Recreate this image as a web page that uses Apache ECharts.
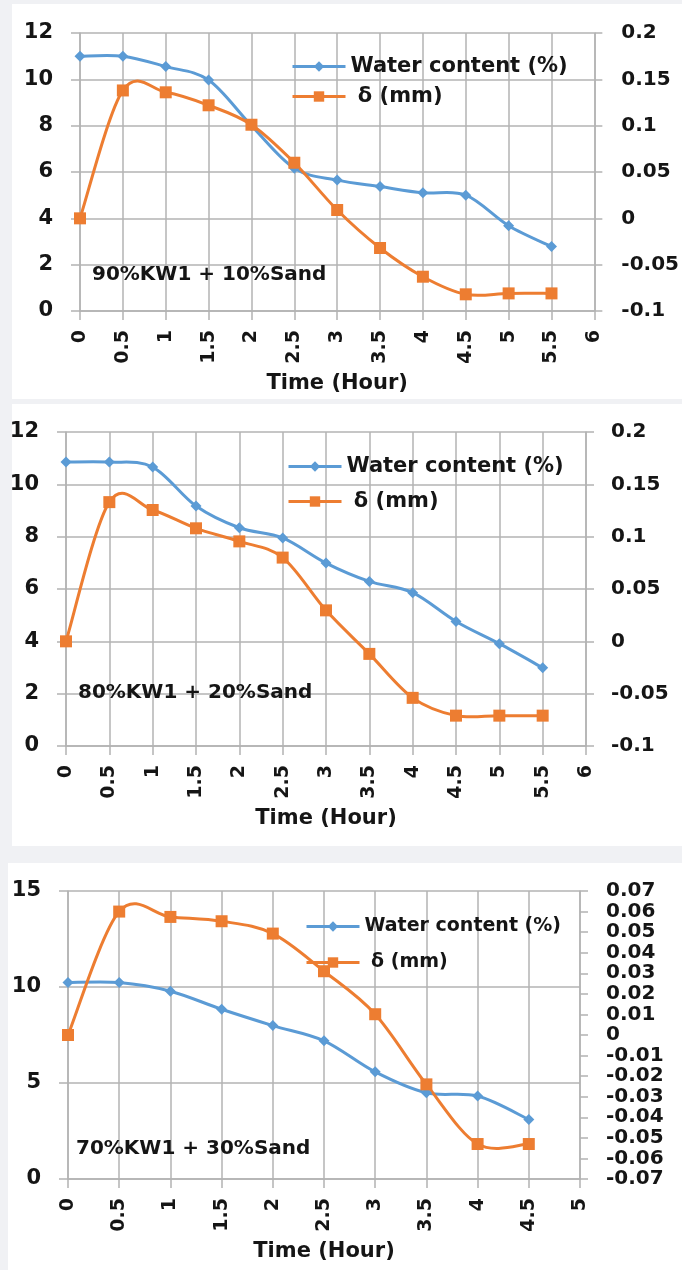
<!DOCTYPE html>
<html>
<head>
<meta charset="utf-8">
<script src="https://cdn.jsdelivr.net/npm/echarts@6/dist/echarts.min.js"></script>
<style>
  html, body { margin: 0; padding: 0; background: #f0f1f4; }
  #chart { width: 682px; height: 1270px; }
</style>
</head>
<body>
<div id="chart"></div>
<script>
// tempos (h)
const time1 = [0, 0.5, 1, 1.5, 2, 2.5, 3, 3.5, 4, 4.5, 5, 5.5];
const time2 = [0, 0.5, 1, 1.5, 2, 2.5, 3, 3.5, 4, 4.5, 5, 5.5];
const time3 = [0, 0.5, 1, 1.5, 2, 2.5, 3, 3.5, 4, 4.5];

// 90%KW1 + 10%Sand
const water1 = [11, 11, 10.55, 9.97, 8.0, 6.16, 5.65, 5.37, 5.1, 5.0, 3.68, 2.78];
const delta1 = [0, 0.138, 0.136, 0.122, 0.101, 0.06, 0.009, -0.032, -0.063, -0.082, -0.081, -0.081];

// 80%KW1 + 20%Sand
const water2 = [10.85, 10.85, 10.66, 9.17, 8.34, 7.95, 6.99, 6.29, 5.86, 4.76, 3.91, 2.99];
const delta2 = [0, 0.133, 0.1255, 0.108, 0.0955, 0.08, 0.0296, -0.012, -0.054, -0.071, -0.071, -0.071];

// 70%KW1 + 30%Sand
const water3 = [10.23, 10.23, 9.78, 8.84, 7.99, 7.2, 5.58, 4.49, 4.32, 3.1];
const delta3 = [0, 0.06, 0.0574, 0.0553, 0.0493, 0.031, 0.0101, -0.024, -0.053, -0.053];

const labels = ["90%KW1 + 10%Sand", "80%KW1 + 20%Sand", "70%KW1 + 30%Sand"];

const BLUE = "#5b9bd5";
const ORANGE = "#ed7d31";
const GRID = "#b3b3b3";
const TXT = "#151515";
const FONT = "DejaVu Sans";

function pairs(xs, ys) {
  return xs.map((x, i) => [x, ys[i]]);
}

function xAxisFor(idx, max) {
  return {
    type: "value",
    gridIndex: idx,
    min: 0,
    max: max,
    interval: 0.5,
    name: "Time (Hour)",
    nameLocation: "middle",
    nameGap: 62,
    nameTextStyle: { color: TXT, fontFamily: FONT, fontWeight: "bold", fontSize: 21 },
    axisLine: { show: true, lineStyle: { color: GRID, width: 1.5 } },
    axisTick: { show: true, length: 9, lineStyle: { color: GRID, width: 1.5 } },
    axisLabel: { rotate: 90, margin: 19, color: TXT, fontFamily: FONT, fontWeight: "bold", fontSize: 19 },
    splitLine: { show: true, lineStyle: { color: GRID, width: 1.5 } },
  };
}

function yLeft(idx, max, interval) {
  return {
    type: "value",
    gridIndex: idx,
    position: "left",
    min: 0,
    max: max,
    interval: interval,
    axisLine: { show: true, lineStyle: { color: GRID, width: 1.5 } },
    axisTick: { show: true, length: 9, lineStyle: { color: GRID, width: 1.5 } },
    axisLabel: { margin: 27, color: TXT, fontFamily: FONT, fontWeight: "bold", fontSize: 21 },
    splitLine: { show: true, lineStyle: { color: GRID, width: 1.5 } },
  };
}

function yRight(idx, min, max, interval, margin) {
  return {
    type: "value",
    gridIndex: idx,
    position: "right",
    min: min,
    max: max,
    interval: interval,
    axisLine: { show: true, lineStyle: { color: GRID, width: 1.5 } },
    axisTick: { show: true, length: 8, lineStyle: { color: GRID, width: 1.5 } },
    axisLabel: { margin: margin, color: TXT, fontFamily: FONT, fontWeight: "bold", fontSize: 20 },
    splitLine: { show: false },
  };
}

// curva suavizada tipo Excel (bezier entre os pontos, pelas coordenadas do eixo)
function curveSeries(idx, yIdx, data, color) {
  return {
    type: "custom",
    xAxisIndex: idx,
    yAxisIndex: yIdx,
    data: data,
    z: 2,
    silent: true,
    renderItem: function (params, api) {
      var i = params.dataIndex;
      var n = data.length;
      if (i >= n - 1) return null;
      var p0 = api.coord(data[Math.max(i - 1, 0)]);
      var p1 = api.coord(data[i]);
      var p2 = api.coord(data[i + 1]);
      var p3 = api.coord(data[Math.min(i + 2, n - 1)]);
      return {
        type: "bezierCurve",
        shape: {
          x1: p1[0], y1: p1[1],
          x2: p2[0], y2: p2[1],
          cpx1: p1[0] + (p2[0] - p0[0]) / 6,
          cpy1: p1[1] + (p2[1] - p0[1]) / 6,
          cpx2: p2[0] - (p3[0] - p1[0]) / 6,
          cpy2: p2[1] - (p3[1] - p1[1]) / 6,
        },
        style: { stroke: color, lineWidth: 3, fill: null },
      };
    },
  };
}

function markerSeries(name, idx, yIdx, data, color, symbol, size) {
  return {
    name: name,
    type: "line",
    xAxisIndex: idx,
    yAxisIndex: yIdx,
    data: data,
    z: 3,
    symbol: symbol,
    symbolSize: size,
    itemStyle: { color: color },
    lineStyle: { width: 0 },
  };
}

function legendFor(left, top, gap, size) {
  return {
    orient: "vertical",
    left: left,
    top: top,
    itemWidth: 53,
    itemHeight: 13,
    itemGap: gap,
    data: [
      { name: "Water content (%)", lineStyle: { color: BLUE, width: 3 } },
      { name: "δ (mm)", lineStyle: { color: ORANGE, width: 3 } },
    ],
    formatter: (n) => (n === "δ (mm)" ? " " + n : n),
    textStyle: { color: TXT, fontFamily: FONT, fontWeight: "bold", fontSize: size },
  };
}

function noteText(x, y, text) {
  return {
    type: "text",
    left: x,
    top: y - 12,
    z: 5,
    style: { text: text, fill: TXT, font: "bold 20px 'DejaVu Sans'" },
  };
}

var chartDom = document.getElementById("chart");
var myChart = echarts.init(chartDom);

var d1w = pairs(time1, water1), d1d = pairs(time1, delta1);
var d2w = pairs(time2, water2), d2d = pairs(time2, delta2);
var d3w = pairs(time3, water3), d3d = pairs(time3, delta3);

var option = {
  backgroundColor: "#f0f1f4",
  animation: false,
  graphic: [
    { type: "rect", shape: { x: 12, y: 4, width: 670, height: 395 }, style: { fill: "#fff" }, z: -10 },
    { type: "rect", shape: { x: 12, y: 404, width: 670, height: 442 }, style: { fill: "#fff" }, z: -10 },
    { type: "rect", shape: { x: 8, y: 863, width: 674, height: 407 }, style: { fill: "#fff" }, z: -10 },
    noteText(92, 277, labels[0]),
    noteText(78, 695, labels[1]),
    noteText(76, 1151, labels[2]),
  ],
  grid: [
    { left: 80, top: 33, width: 518, height: 278 },
    { left: 66, top: 432, width: 520, height: 314 },
    { left: 68, top: 891, width: 512, height: 288 },
  ],
  legend: [legendFor(286, 51, 9, 21), legendFor(282, 451, 14, 21), legendFor(300, 912, 17, 19)],
  xAxis: [xAxisFor(0, 6), xAxisFor(1, 6), xAxisFor(2, 5)],
  yAxis: [
    yLeft(0, 12, 2),
    yRight(0, -0.1, 0.2, 0.05, 27),
    yLeft(1, 12, 2),
    yRight(1, -0.1, 0.2, 0.05, 25),
    yLeft(2, 15, 5),
    yRight(2, -0.07, 0.07, 0.01, 26),
  ],
  series: [
    curveSeries(0, 0, d1w, BLUE),
    curveSeries(0, 1, d1d, ORANGE),
    markerSeries("Water content (%)", 0, 0, d1w, BLUE, "diamond", 11),
    markerSeries("δ (mm)", 0, 1, d1d, ORANGE, "rect", 12),
    curveSeries(1, 2, d2w, BLUE),
    curveSeries(1, 3, d2d, ORANGE),
    markerSeries("Water content (%)", 1, 2, d2w, BLUE, "diamond", 11),
    markerSeries("δ (mm)", 1, 3, d2d, ORANGE, "rect", 12),
    curveSeries(2, 4, d3w, BLUE),
    curveSeries(2, 5, d3d, ORANGE),
    markerSeries("Water content (%)", 2, 4, d3w, BLUE, "diamond", 11),
    markerSeries("δ (mm)", 2, 5, d3d, ORANGE, "rect", 12),
  ],
};

option && myChart.setOption(option);
</script>
</body>
</html>
